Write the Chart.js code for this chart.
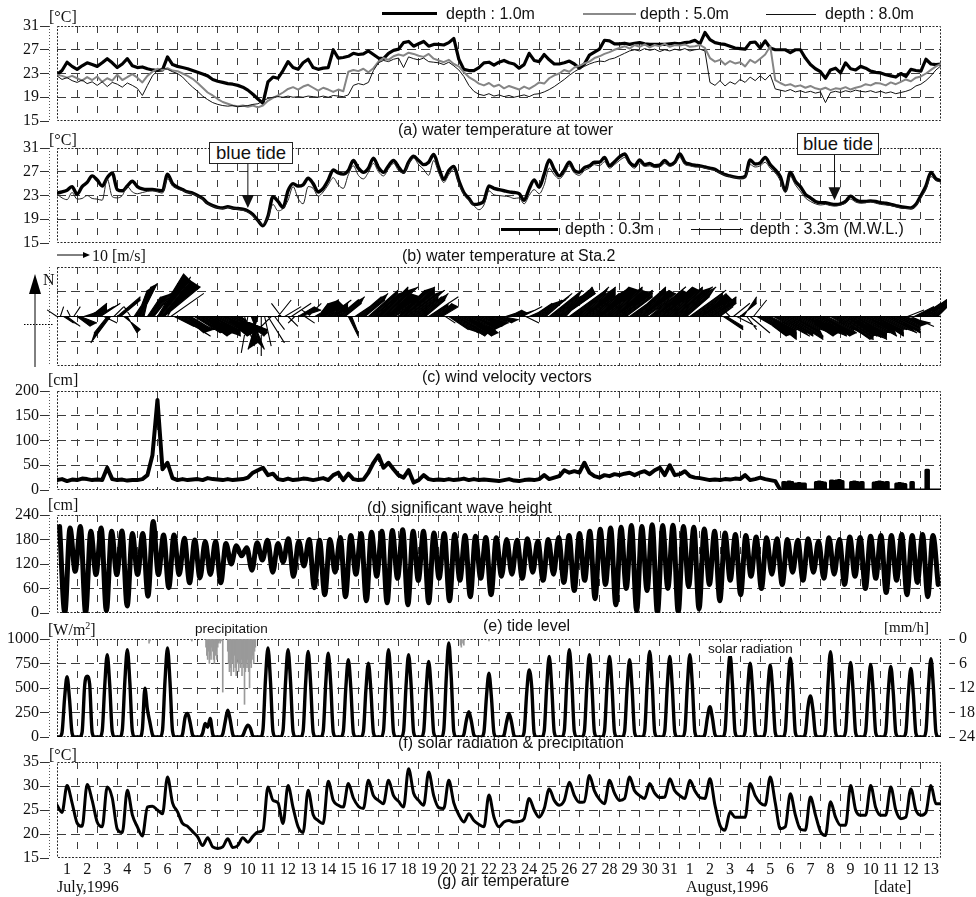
<!DOCTYPE html>
<html>
<head>
<meta charset="utf-8">
<title>Water temperature, wind, waves, tide, radiation and air temperature, July–August 1996</title>
<script src="https://cdn.jsdelivr.net/npm/chart.js@4.4.1/dist/chart.umd.min.js"></script>
<style>
  html, body { margin: 0; padding: 0; background: #fff; }
  #page { position: relative; width: 976px; height: 897px; overflow: hidden; background: #fff; }
  #page canvas { position: absolute; left: 0; top: 0; }
  .t { position: absolute; white-space: nowrap; color: #111; line-height: 1; z-index: 5; }
  .sans { font-family: "Liberation Sans", Arial, sans-serif; }
  .serif { font-family: "Liberation Serif", "Times New Roman", serif; }
  .ln { position: absolute; z-index: 5; }
  .box { position: absolute; z-index: 6; background: #fff; border: 1px solid #222; box-sizing: border-box;
         font-family: "Liberation Sans", Arial, sans-serif; font-size: 18.5px; line-height: 20px; text-align: center; color: #111; }
  .wbg { background: #fff; }
</style>
</head>
<body>
<div id="page">
  <canvas id="cA" width="976" height="897"></canvas>
  <canvas id="cB" width="976" height="897"></canvas>
  <canvas id="cC" width="976" height="897"></canvas>
  <canvas id="cD" width="976" height="897"></canvas>
  <canvas id="cE" width="976" height="897"></canvas>
  <canvas id="cF" width="976" height="897"></canvas>
  <canvas id="cG" width="976" height="897"></canvas>

  <!-- (a) -->
  <div class="t serif" style="left:49px;top:9px;font-size:16px">[°C]</div>
  <div class="ln" style="left:382px;top:12px;width:55px;height:3px;background:#000"></div>
  <div class="t sans" style="left:446px;top:6px;font-size:16px">depth : 1.0m</div>
  <div class="ln" style="left:583px;top:13px;width:53px;height:2px;background:#8a8a8a"></div>
  <div class="t sans" style="left:640px;top:6px;font-size:16px">depth : 5.0m</div>
  <div class="ln" style="left:766px;top:13.5px;width:50px;height:1px;background:#111"></div>
  <div class="t sans" style="left:825px;top:6px;font-size:16px">depth : 8.0m</div>
  <div class="t sans" style="left:398px;top:122px;font-size:16px">(a) water temperature at tower</div>

  <!-- (b) -->
  <div class="t serif" style="left:49px;top:132px;font-size:16px">[°C]</div>
  <div id="bt1" class="box" style="left:209px;top:142px;width:84px;height:22px">blue tide</div>
  <div id="bt2" class="box" style="left:797px;top:133px;width:82px;height:22px">blue tide</div>
  <div class="ln" style="left:501px;top:227.5px;width:57px;height:3px;background:#000"></div>
  <div class="t sans wbg" style="left:563px;top:221px;font-size:16px;padding:0 2px">depth : 0.3m</div>
  <div class="ln" style="left:691px;top:228.5px;width:52px;height:1px;background:#111"></div>
  <div class="t sans wbg" style="left:748px;top:221px;font-size:16px;padding:0 2px">depth : 3.3m (M.W.L.)</div>
  <div class="t sans" style="left:402px;top:248px;font-size:16px">(b) water temperature at Sta.2</div>

  <!-- (c) -->
  <div class="t serif" style="left:92px;top:248px;font-size:16px">10 [m/s]</div>
  <div class="t serif" style="left:43px;top:272px;font-size:16px">N</div>
  <div class="t sans" style="left:422px;top:369px;font-size:16px">(c) wind velocity vectors</div>

  <!-- (d) -->
  <div class="t serif" style="left:48px;top:372px;font-size:16px">[cm]</div>
  <div class="t sans" style="left:367px;top:500px;font-size:16px">(d) significant wave height</div>

  <!-- (e) -->
  <div class="t serif" style="left:48px;top:497px;font-size:16px">[cm]</div>
  <div class="t sans" style="left:483px;top:618px;font-size:16px">(e) tide level</div>

  <!-- (f) -->
  <div class="t serif" style="left:48px;top:621px;font-size:16px">[W/m<sup style="font-size:10px;vertical-align:6px">2</sup>]</div>
  <div class="t sans" style="left:195px;top:622px;font-size:13.5px">precipitation</div>
  <div class="t serif" style="left:884px;top:620px;font-size:15px">[mm/h]</div>
  <div class="t sans wbg" style="left:707px;top:642px;font-size:13.5px;padding:0 1px">solar radiation</div>
  <div class="t sans" style="left:398px;top:735px;font-size:16px">(f) solar radiation &amp; precipitation</div>

  <!-- (g) -->
  <div class="t serif" style="left:49px;top:747px;font-size:16px">[°C]</div>
  <div class="t serif" style="left:57px;top:879px;font-size:16px">July,1996</div>
  <div class="t sans" style="left:437px;top:873px;font-size:16px">(g) air temperature</div>
  <div class="t serif" style="left:686px;top:879px;font-size:16px">August,1996</div>
  <div class="t serif" style="left:874px;top:879px;font-size:16px">[date]</div>
</div>

<script>
// ---------------------------------------------------------------------------
// Time axis: days since 1 July 1996 00:00 (44 days, to 14 August 00:00)
// ---------------------------------------------------------------------------
const DAY_COUNT = 44;
const DAY_LABELS = ["1","2","3","4","5","6","7","8","9","10","11","12","13","14","15","16",
  "17","18","19","20","21","22","23","24","25","26","27","28","29","30","31",
  "1","2","3","4","5","6","7","8","9","10","11","12","13"];

// (a) water temperature at tower [°C], 6-hourly
const tower1m = [22.8,23.5,24.9,24.2, 23.7,24.3,24.8,24.5, 24.2,24.8,25.5,24.8, 24.0,24.6,25.5,24.3,
  24.0,24.1,23.8,23.6, 23.5,23.6,25.8,24.5, 24.2,24.0,23.8,23.5, 23.2,22.9,22.6,22.0,
  21.7,21.5,21.3,21.2, 21.0,20.7,20.2,19.5, 18.7,18.0,21.6,22.4, 22.2,23.5,25.0,24.0,
  23.7,24.8,25.4,24.0, 23.7,23.9,24.0,27.0, 25.6,25.7,25.9,26.4, 26.2,26.3,26.8,26.2,
  25.6,25.5,26.4,26.9, 27.1,28.2,28.4,27.6, 28.0,28.4,27.6,27.9, 27.9,27.8,28.2,28.9,
  25.4,23.7,23.5,23.5, 24.0,24.8,24.9,24.4, 24.9,25.2,24.8,24.6, 23.9,24.5,26.4,25.2,
  25.0,26.2,25.3,24.6, 24.6,24.8,25.1,24.6, 23.9,24.6,26.1,26.6, 27.1,28.6,28.5,28.0,
  28.0,28.1,27.9,28.1, 28.2,28.0,27.9,27.9, 27.9,27.9,28.0,28.1, 28.0,28.2,28.3,28.6,
  28.0,29.9,28.7,28.2, 28.0,27.9,27.6,27.3, 27.2,27.1,28.2,28.3, 27.3,28.5,27.3,27.0,
  27.0,27.0,26.5,27.0, 27.0,25.6,24.5,23.8, 23.3,22.2,23.6,23.9, 23.1,24.8,23.8,23.6,
  24.2,23.9,23.4,23.2, 23.1,22.8,22.6,22.4, 23.0,22.5,23.7,23.5, 23.4,25.4,24.6,24.5, 24.6];
const tower5m = [22.8,22.6,22.3,22.6, 22.2,21.8,22.4,21.9, 22.5,21.6,22.2,21.8, 22.8,21.9,22.4,22.9,
  22.3,21.5,22.6,23.3, 23.8,23.6,23.9,23.5, 23.4,23.0,22.6,22.1, 21.4,20.6,19.8,19.3,
  18.7,18.2,17.9,17.6, 17.5,17.6,17.4,17.6, 17.3,17.6,18.4,18.9, 19.3,19.8,20.4,20.7,
  20.3,20.8,21.1,20.6, 20.1,20.6,20.3,19.9, 20.3,20.0,23.3,23.6, 23.4,23.8,23.2,23.9,
  25.0,25.6,25.3,25.9, 26.2,26.0,26.5,26.3, 26.0,25.8,26.3,25.5, 25.2,24.9,25.3,24.6,
  24.2,23.2,22.4,21.9, 21.3,21.0,21.4,20.8, 21.1,20.5,20.9,20.6, 20.3,20.8,20.4,20.9,
  21.5,21.3,22.2,22.7, 23.0,23.6,23.3,24.0, 24.3,24.7,25.0,25.6, 25.9,26.3,26.6,27.0,
  27.3,27.6,27.2,27.8, 27.5,27.9,27.4,27.8, 27.6,28.0,27.5,27.8, 27.7,27.9,27.5,27.6,
  27.8,27.3,25.6,25.0, 25.3,24.5,25.1,24.7, 24.9,24.2,25.3,24.8, 25.5,26.2,27.6,21.9,
  21.4,21.0,21.2,20.8, 21.0,20.6,20.9,20.5, 20.3,20.6,20.2,20.5, 20.4,20.7,20.3,20.6,
  20.8,21.2,21.0,21.4, 21.3,21.0,21.5,21.2, 21.6,22.0,21.7,22.3, 22.5,23.0,23.6,24.2, 24.6];
const tower8m = [22.6,22.0,22.3,21.8, 21.5,21.9,21.3,21.6, 21.0,21.6,20.8,21.5, 21.2,20.7,21.4,21.0,
  20.5,19.3,21.0,22.6, 23.5,23.9,23.7,23.3, 23.0,22.4,21.5,20.7, 20.0,19.2,18.6,18.1,
  17.8,17.6,17.5,17.6, 17.4,17.5,17.6,17.8, 17.9,18.4,18.8,19.0, 19.1,19.0,19.2,19.0,
  19.1,19.0,19.2,19.1, 19.0,19.2,19.0,19.3, 19.2,19.1,19.4,21.0, 21.3,21.1,21.5,23.5,
  24.8,25.2,25.0,25.4, 25.6,24.0,25.8,25.5, 25.3,25.6,25.0,24.9, 24.8,24.5,24.9,24.3,
  23.6,22.5,21.0,20.0, 19.5,19.3,19.6,19.2, 19.4,19.1,19.3,19.0, 19.2,19.4,19.1,19.5,
  19.6,19.9,20.3,20.8, 21.4,22.0,22.7,23.3, 23.8,24.2,24.6,24.9, 25.1,25.0,25.4,25.6,
  26.0,26.4,26.8,27.0, 26.8,27.2,26.9,27.1, 26.7,27.0,26.8,27.1, 26.9,27.2,26.8,27.0,
  27.1,26.8,21.5,21.0, 21.8,20.9,21.6,21.2, 22.0,21.5,22.4,21.8, 22.6,21.9,22.8,20.4,
  20.2,20.0,20.3,19.9, 20.1,19.8,20.0,19.7, 19.9,18.1,19.8,20.0, 19.8,20.1,19.9,20.2,
  20.0,19.9,20.1,19.8, 20.0,19.7,19.9,19.6, 19.8,20.0,20.3,20.9, 21.2,21.8,22.6,23.6, 24.3];

// (b) water temperature at Sta.2 [°C], 6-hourly
const sta2Surface = [23.4,23.6,23.9,24.5, 23.2,24.5,25.2,26.3, 25.6,24.6,26.0,26.8, 24.0,23.8,24.6,25.4,
  24.5,24.1,24.0,24.0, 23.9,23.8,26.6,25.0, 24.4,24.0,23.6,23.4, 23.0,22.5,21.7,21.3,
  21.0,20.9,21.1,20.9, 20.8,20.7,20.4,19.8, 18.8,17.9,19.5,22.8, 22.0,21.0,23.8,25.0,
  24.6,24.8,25.9,25.0, 23.6,24.2,25.6,27.3, 26.8,26.6,27.2,28.9, 27.6,26.9,27.6,29.3,
  27.7,26.9,28.0,28.9, 27.8,26.9,28.6,29.6, 28.9,28.2,28.6,29.9, 27.7,25.7,27.2,27.9,
  25.5,23.5,22.5,21.5, 21.6,22.1,24.6,24.2, 24.0,23.8,23.6,23.5, 23.3,22.2,24.1,25.6,
  24.4,26.6,29.0,27.4, 26.3,27.3,28.6,27.2, 26.9,27.7,28.0,28.6, 28.6,29.4,28.0,28.7,
  29.5,30.0,28.6,28.0, 29.0,28.2,28.4,28.0, 28.1,28.9,28.2,28.6, 30.0,28.6,28.3,28.1,
  28.0,27.8,27.6,27.4, 26.9,26.5,26.3,26.1, 26.0,26.2,29.0,28.3, 28.5,29.4,28.2,27.3,
  26.2,23.8,26.9,25.4, 24.5,23.2,22.6,22.0, 21.8,21.8,21.6,21.5, 21.6,22.0,22.9,22.3,
  22.0,22.0,22.1,22.0, 21.8,21.7,21.5,21.3, 21.1,21.0,20.9,21.5, 23.0,24.6,26.9,25.8, 25.5];
const sta2Bottom = [23.2,22.6,22.3,23.5, 22.4,22.5,23.0,22.5, 22.4,22.2,25.8,22.8, 22.6,23.0,24.5,23.6,
  23.3,23.5,23.7,23.8, 23.6,23.4,25.8,24.6, 24.1,23.8,23.5,23.3, 22.9,22.4,21.6,21.2,
  20.9,20.8,21.0,20.8, 20.7,20.5,20.2,19.6, 18.7,18.1,19.3,21.5, 20.4,20.8,22.2,24.5,
  22.5,21.6,24.5,24.2, 22.9,23.6,24.8,26.0, 24.8,24.2,26.5,28.0, 26.4,25.8,26.9,28.4,
  27.0,26.3,27.5,28.4, 27.2,26.8,28.3,29.3, 28.2,27.4,26.4,28.9, 26.8,25.2,26.5,27.4,
  25.0,23.2,22.2,21.3, 20.6,21.4,23.8,23.1, 23.0,22.9,22.8,22.5, 22.6,21.6,23.0,24.0,
  23.3,24.8,27.6,26.5, 25.8,26.7,28.0,26.8, 26.4,27.2,27.6,28.2, 28.0,28.7,27.6,28.2,
  28.9,29.4,28.2,27.6, 28.5,27.9,28.0,27.7, 27.8,28.4,27.9,28.3, 29.4,28.2,28.0,27.8,
  27.8,27.6,27.4,27.2, 26.8,26.4,26.2,26.0, 25.9,26.0,28.2,27.8, 28.0,28.6,27.6,26.8,
  25.5,23.5,26.2,24.8, 23.7,22.6,22.0,21.6, 21.4,21.5,21.3,21.2, 21.4,21.7,22.4,21.9,
  21.7,21.8,21.9,21.7, 21.5,21.4,21.3,21.1, 20.9,20.8,20.8,21.2, 22.6,24.0,26.2,25.5, 25.3];
const BLUE_TIDE_DAYS = [9.5, 38.7];
const BLUE_TIDE_TEMPS = [20.9, 22.2];

// (c) wind velocity components [m/s], 4-hourly (east, north)
const windU = [-3,1,3,4,-1,2, 4,5,3,6,5,4, 5,6,4,-4,-6,3, 7,6,5,3,-2,4, 3,5,2,4,6,7,
  8,9,11,7,10,6, 7,9,6,8,5,8, 9,8,10,7,9,8, 8,10,7,9,8,10, 9,7,3,-2,4,1,
  -3,0,2,5,-6,3, 4,-3,5,3,6,-2, 5,6,3,4,-3,5, 3,5,6,7,5,4, 6,7,5,3,2,6,
  7,8,6,9,8,10, 9,8,10,7,9,6, 8,10,9,11,8,7, 7,8,6,9,5,4, 4,5,3,6,8,9,
  9,10,8,9,7,8, 6,7,5,6,4,5, 4,5,3,4,5,6, 5,6,4,7,6,8, 8,9,7,10,8,9,
  9,10,8,11,9,10, 8,10,9,11,8,9, 9,11,8,10,9,11, 10,9,8,11,10,9, 9,10,7,11,9,10,
  10,11,8,10,9,11, 9,10,7,11,9,8, 8,9,6,8,7,5, 4,6,5,-2,5,6, 5,4,3,6,4,7,
  8,10,9,8,11,9, 10,9,11,10,8,10, 10,9,11,8,10,9, 9,10,8,11,9,10, 10,9,11,8,10,9,
  9,10,8,10,9,8, 8,10,7,9,8,7, 6,8,5,7,6,5, 6,8,5,6,4,3];
const windV = [2,3,-2,-3,2,3, -3,-2,1,3,4,2, 3,4,-2,-5,-8,3, 6,5,-4,-5,3,6, 8,10,9,6,7,9,
  13,11,9,12,7,-3, -4,-6,-5,-4,-3,-5, -5,-6,-4,-5,-6,-4, -4,-5,-6,-4,-5,-4, -5,-6,-9,-11,-10,-8,
  -10,-12,-9,-8,-6,-4, 5,4,3,-3,4,-2, 3,2,-2,4,2,3, 4,5,3,5,4,2, 5,6,4,-6,-5,4,
  6,7,5,8,7,8, 9,8,9,7,6,4, 8,9,7,8,6,5, 6,7,5,6,4,3, 4,3,-2,-4,-5,-6,
  -5,-4,-6,-5,-4,-3, -3,-2,-3,-2,-1,-2, -2,-1,1,2,1,2, 2,3,-2,3,4,5, 5,7,6,8,6,7,
  8,7,9,8,7,9, 7,9,6,8,7,8, 9,8,7,9,8,7, 8,7,6,8,9,7, 8,7,5,9,8,7,
  9,8,7,9,8,9, 8,9,6,8,7,6, 7,5,4,6,4,3, 3,-4,-3,2,4,-3, 4,6,-4,-5,5,-4,
  -6,-5,-7,-4,-6,-5, -6,-5,-7,-6,-4,-5, -5,-6,-4,-5,-6,-5, -6,-5,-4,-6,-5,-7, -7,-6,-5,-6,-7,-5,
  -5,-6,-3,-5,-6,-4, -4,-5,-3,-5,-4,-3, -3,-2,2,-3,3,2, 4,6,3,5,4,3];

// (d) significant wave height [cm]: 6-hourly to 6 August, then 3-hourly with dropouts
const waveHeight = [20,22,18,21, 20,23,22,20, 21,20,45,22, 20,21,19,20, 20,22,30,70,
  182,42,55,24, 20,22,20,21, 22,20,24,22, 21,20,22,20, 21,22,25,35, 40,45,30,33,
  22,20,23,20, 21,23,22,20, 22,24,20,30, 35,20,33,22, 20,21,35,55, 70,45,55,42,
  30,25,40,15, 20,30,22,20, 21,20,22,20, 21,23,20,22, 20,21,20,19, 18,20,22,19,
  18,20,21,20, 22,30,22,25, 28,40,35,38, 35,55,35,28, 25,30,28,32, 30,33,35,30,
  35,38,32,40, 45,30,50,30, 32,38,28,25, 24,22,20,21, 20,22,21,23, 22,30,20,22,
  25,22,20,18, 0];
const WAVE_LATE_START = 36;
const waveHeightLate = [0,0,15,14,16,15,0,12, 13,12,12,0,0,0,0,15, 16,15,14,0,0,18,17,18,
  19,17,0,0,0,15,16,15, 14,15,0,0,0,0,14,15, 16,15,14,15,0,0,0,12, 13,12,11,0,0,15,0,0,
  0,0,0,40,0,0,0,0, 0];

// (e) tide level [cm]: successive high / low waters
const TIDE_FIRST_HW = 0.13;          // day of first high water
const TIDE_HALF_PERIOD = 12.42 / 48;  // days between successive high and low water
const tideExtremes = [212,0,208,102,212,0,200,94,208,5,200,94,201,17,195,94,195,41,224,94,191,62,191,94,183,74,179,86,175,94,175,74,
  170,120,165,140,160,105,172,130,178,100,170,125,182,90,176,115,180,62,
  178,45,180,100,185,40,190,95,195,30,198,90,200,25,202,85,204,20,200,80,200,25,196,85,195,30,192,80,190,40,188,85,185,45,184,90,
  180,95,178,85,182,100,176,80,180,95,185,75,
  190,55,195,80,200,35,205,70,208,20,210,60,
  214,5,212,55,216,0,214,60,215,2,212,65,210,10,206,70,
  200,30,196,80,192,45,190,90,186,60,184,95,182,70,180,100,178,80,
  182,100,176,85,184,95,180,70,186,90,185,60,188,85,190,50,190,80,192,45,190,75,192,40,190,70];

// (f) solar radiation [W/m2], 3-hourly
const solarRad = [0,0,45,390,616,380,40,0, 0,0,50,520,620,540,45,0, 0,0,60,520,839,530,55,0, 0,0,70,560,890,560,60,0,
  0,0,80,497,280,150,25,0, 0,0,65,570,908,560,60,0, 0,0,30,200,240,150,20,0, 0,0,40,137,100,190,30,0,
  0,0,30,160,274,170,25,0, 0,0,15,80,120,90,10,0, 0,0,70,580,908,570,55,0, 0,0,65,560,890,560,55,0,
  0,0,60,550,873,540,50,0, 0,0,60,540,856,540,50,0, 0,0,55,500,788,500,45,0, 0,0,55,480,753,470,45,0,
  0,0,65,560,890,555,50,0, 0,0,60,530,839,530,50,0, 0,0,55,490,771,480,45,0, 0,0,70,600,959,600,55,0,
  0,0,25,170,257,160,20,0, 0,0,50,410,650,400,40,0, 0,0,20,150,240,150,15,0, 0,0,50,440,685,520,40,0,
  0,0,60,520,822,510,50,0, 0,0,65,560,890,560,55,0, 0,0,60,530,839,520,50,0, 0,0,60,520,822,515,50,0,
  0,0,55,500,788,495,45,0, 0,0,60,550,873,545,50,0, 0,0,60,520,822,510,50,0, 0,0,60,530,839,525,50,0,
  0,0,30,200,308,190,25,0, 0,0,60,530,839,520,50,0, 0,0,55,480,753,470,45,0, 0,0,55,470,736,460,45,0,
  0,0,60,510,805,500,45,0, 0,0,40,300,420,280,30,0, 0,0,60,540,870,540,50,0, 0,0,55,480,760,470,45,0,
  0,0,55,470,740,460,45,0, 0,0,50,460,720,450,45,0, 0,0,50,440,700,430,40,0, 0,0,60,500,800,490,45,0, 0];
// precipitation [mm/h] by hour since 1 July 00:00
const precipHour = [110,111,161,178,179,180,181,182,183,184,185,186,187,188,189,190,191,192,193,194,195,196,198,
  204,205,206,207,208,209,210,211,212,213,214,215,216,217,218,219,220,221,222,223,224,225,226,227,228,229,230,
  231,232,233,234,235,236,237,482,483,485,486,516];
const precipRate = [1,0.5,0.5,2,4,5,3,6,4,5,2,3,5,6,4,3,5,2,1,0.5,1,0.5,13,
  3,6,8,7,9,5,6,8,4,7,9,6,5,8,6,7,5,9,6,7,16,8,6,7,5,8,12,
  6,7,5,4,6,3,2,1.5,2,1,1.5,0.5];

// (g) air temperature [°C], 6-hourly
const airTemp = [26.0,24.5,30.1,26.5, 22.3,21.6,30.3,27.0, 22.5,21.5,29.8,27.5, 21.0,20.3,29.1,24.0,
  21.5,19.6,25.6,25.8, 25.0,24.2,31.9,26.5, 24.6,22.2,21.6,20.5, 19.4,17.6,19.2,17.3,
  17.0,17.3,19.0,17.2, 17.6,19.2,18.3,19.5, 20.4,20.8,29.8,27.0, 26.5,22.2,30.1,25.5,
  21.5,20.3,29.1,24.0, 22.8,22.2,31.0,27.0, 26.0,25.6,30.5,27.5, 25.8,25.3,31.2,28.0,
  27.0,26.3,31.2,28.0, 26.8,25.6,33.6,28.5, 27.0,26.0,32.9,28.0, 25.5,25.3,31.2,26.5,
  24.0,22.5,24.2,22.8, 22.0,21.5,28.1,23.5, 21.5,22.5,22.8,22.5, 22.6,23.2,27.4,25.0,
  23.5,25.3,29.4,27.0, 26.0,27.0,30.8,28.0, 26.6,26.7,32.2,29.0, 27.2,26.3,31.2,28.5,
  27.0,27.4,31.9,29.0, 28.0,27.4,30.5,28.5, 27.6,27.7,31.5,29.0, 28.0,27.4,31.2,29.0,
  27.6,27.4,31.5,26.0, 21.8,20.8,24.6,23.5, 23.5,23.5,30.5,28.0, 26.5,26.0,31.9,26.5,
  21.1,21.5,28.4,24.0, 21.0,20.8,27.7,24.0, 20.5,19.7,26.7,23.5, 21.8,21.8,30.1,25.0,
  23.9,23.9,30.1,25.5, 23.9,23.9,29.8,25.0, 23.2,23.5,29.4,25.0, 23.9,24.5,30.1,26.3, 26.3];

// ---------------------------------------------------------------------------
// Chart helpers
// ---------------------------------------------------------------------------
const PAGE_H = 897;
const SERIF = '"Liberation Serif", "Times New Roman", serif';
Chart.defaults.font.family = SERIF;
Chart.defaults.color = '#111';

// series sampled every `hours` hours, starting `startDay` days after 1 July 00:00
const sampled = (values, hours, startDay = 0) => values.map((v, i) => ({ x: startDay + i * hours / 24, y: v }));

const GRID = '#3c3c3c';
const gridColor = (lo, hi) => (ctx) =>
  (ctx.tick && (ctx.tick.value <= lo + 1e-9 || ctx.tick.value >= hi - 1e-9)) ? 'rgba(0,0,0,0)' : GRID;

// dotted frame round every plot area, with the dotted ruler beside the value axis
Chart.register({
  id: 'plotFrame',
  beforeDatasetsDraw(chart) {
    const { ctx, chartArea: a } = chart;
    ctx.save();
    ctx.strokeStyle = '#2a2a2a';
    ctx.lineWidth = 1;
    ctx.setLineDash([2, 1.5]);
    ctx.strokeRect(a.left + 0.5, a.top + 0.5, a.right - a.left - 1, a.bottom - a.top - 1);
    ctx.strokeStyle = '#555';
    ctx.setLineDash([1, 2]);
    ctx.beginPath(); ctx.moveTo(a.left - 7.5, a.top); ctx.lineTo(a.left - 7.5, a.bottom); ctx.stroke();
    ctx.restore();
  }
});

function xGrid() {
  return {
    type: 'linear', min: 0, max: DAY_COUNT, offset: false,
    ticks: { display: false, stepSize: 1, maxTicksLimit: 100 },
    grid: { color: gridColor(0, DAY_COUNT), lineWidth: 1, drawTicks: false, offset: false },
    border: { display: false, dash: [7, 9] },
    afterFit: (s) => { s.height = 0; }
  };
}

function yLeft(min, max, step, showTicks = true) {
  return {
    type: 'linear', position: 'left', min, max,
    ticks: { display: showTicks, stepSize: step, padding: 1, font: { family: SERIF, size: 16 }, color: '#111',
             callback: (v) => String(v) },
    grid: { color: gridColor(min, max), lineWidth: 1, drawTicks: showTicks, tickLength: 17,
            tickColor: '#333', tickWidth: 1, tickBorderDash: [9, 30] },
    border: { display: false, dash: [9, 5] },
    afterFit: (s) => { s.width = 57; }
  };
}

function panel(id, { top, bottom, scales, datasets, plugins = [], rightPad = 35, bottomAxis = 0 }) {
  return new Chart(document.getElementById(id), {
    type: 'line',
    data: { datasets },
    plugins,
    options: {
      responsive: false, animation: false, events: [], devicePixelRatio: 1,
      layout: { padding: { left: 0, right: rightPad, top, bottom: PAGE_H - bottom - bottomAxis } },
      plugins: { legend: { display: false }, tooltip: { enabled: false } },
      elements: { point: { radius: 0 }, line: { borderCapStyle: 'round', borderJoinStyle: 'round', fill: false } },
      scales
    }
  });
}

// ---------------------------------------------------------------------------
// (a) water temperature at tower
// ---------------------------------------------------------------------------
panel('cA', {
  top: 26, bottom: 121,
  scales: { x: xGrid(), y: yLeft(15, 31, 4) },
  datasets: [
    { data: sampled(tower8m, 6), borderColor: '#111', borderWidth: 1, tension: 0 },
    { data: sampled(tower5m, 6), borderColor: '#858585', borderWidth: 2, tension: 0 },
    { data: sampled(tower1m, 6), borderColor: '#000', borderWidth: 3.2, tension: 0 }
  ]
});

// ---------------------------------------------------------------------------
// (b) water temperature at Sta.2 with "blue tide" markers
// ---------------------------------------------------------------------------
const blueTideArrows = {
  id: 'blueTideArrows',
  afterDatasetsDraw(chart) {
    const { ctx } = chart;
    const xs = chart.scales.x, ys = chart.scales.y;
    ['bt1', 'bt2'].forEach((boxId, k) => {
      const box = document.getElementById(boxId);
      const x = xs.getPixelForValue(BLUE_TIDE_DAYS[k]);
      const yTip = ys.getPixelForValue(BLUE_TIDE_TEMPS[k]);
      const y0 = box.offsetTop + box.offsetHeight;
      ctx.save();
      ctx.strokeStyle = '#111'; ctx.fillStyle = '#111'; ctx.lineWidth = 1;
      ctx.beginPath(); ctx.moveTo(x, y0); ctx.lineTo(x, yTip - 10); ctx.stroke();
      ctx.beginPath(); ctx.moveTo(x - 6, yTip - 13); ctx.lineTo(x + 6, yTip - 13); ctx.lineTo(x, yTip); ctx.closePath(); ctx.fill();
      ctx.restore();
    });
  }
};
panel('cB', {
  top: 148, bottom: 243,
  scales: { x: xGrid(), y: yLeft(15, 31, 4) },
  plugins: [blueTideArrows],
  datasets: [
    { data: sampled(sta2Bottom, 6), borderColor: '#222', borderWidth: 1, cubicInterpolationMode: 'monotone' },
    { data: sampled(sta2Surface, 6), borderColor: '#000', borderWidth: 3.4, cubicInterpolationMode: 'monotone' }
  ]
});

// ---------------------------------------------------------------------------
// (c) wind velocity vectors (stick plot, equal m/s scale on both axes)
// ---------------------------------------------------------------------------
const WIND_STEP_HOURS = 4;
const WIND_REF_SPEED = 10;
const windSticks = {
  id: 'windSticks',
  afterDatasetsDraw(chart) {
    const { ctx, chartArea: a } = chart;
    const xs = chart.scales.x, ys = chart.scales.y;
    const y0 = ys.getPixelForValue(0);
    const pxPerMs = Math.abs(ys.getPixelForValue(1) - y0);
    const base = (i) => xs.getPixelForValue(i * WIND_STEP_HOURS / 24);
    const tip = (i) => [base(i) + windU[i] * pxPerMs, ys.getPixelForValue(windV[i])];
    ctx.save();
    ctx.beginPath(); ctx.rect(a.left - 14, a.top - 4, a.right - a.left + 20, a.bottom - a.top + 8); ctx.clip();
    ctx.fillStyle = '#000';
    // neighbouring sticks of similar direction merge into a dark fan
    for (let i = 0; i < windU.length - 1; i++) {
      const [tx0, ty0] = tip(i), [tx1, ty1] = tip(i + 1);
      if (Math.sign(windV[i]) !== Math.sign(windV[i + 1])) continue;
      if (Math.hypot(tx1 - tx0, ty1 - ty0) > 13) continue;
      ctx.beginPath();
      ctx.moveTo(base(i), y0); ctx.lineTo(tx0, ty0); ctx.lineTo(tx1, ty1); ctx.lineTo(base(i + 1), y0);
      ctx.closePath(); ctx.fill();
    }
    ctx.strokeStyle = '#000';
    ctx.lineWidth = 1.1;
    ctx.beginPath();
    windU.forEach((u, i) => {
      const [tx, ty] = tip(i);
      ctx.moveTo(base(i), y0);
      ctx.lineTo(tx, ty);
    });
    ctx.stroke();
    ctx.restore();

    ctx.save();
    ctx.strokeStyle = '#000'; ctx.fillStyle = '#000';
    // scale arrow: 10 m/s
    const ry = a.top - 12, rx0 = a.left, rx1 = a.left + WIND_REF_SPEED * pxPerMs;
    ctx.lineWidth = 1;
    ctx.beginPath(); ctx.moveTo(rx0, ry); ctx.lineTo(rx1 - 4, ry); ctx.stroke();
    ctx.beginPath(); ctx.moveTo(rx1, ry); ctx.lineTo(rx1 - 7, ry - 3); ctx.lineTo(rx1 - 7, ry + 3); ctx.closePath(); ctx.fill();

    // north arrow and reference level on the left
    const nx = 35;
    ctx.beginPath(); ctx.moveTo(nx, a.bottom + 1); ctx.lineTo(nx, a.top + 20); ctx.stroke();
    ctx.beginPath(); ctx.moveTo(nx, a.top + 7); ctx.lineTo(nx - 6, a.top + 27); ctx.lineTo(nx + 6, a.top + 27); ctx.closePath(); ctx.fill();
    ctx.setLineDash([1.5, 1.5]);
    ctx.beginPath(); ctx.moveTo(24, y0 + 8); ctx.lineTo(54, y0 + 8); ctx.stroke();
    ctx.restore();
  }
};
panel('cC', {
  top: 267, bottom: 366,
  scales: { x: xGrid(), y: yLeft(-15, 15, 7.5, false) },
  plugins: [windSticks],
  datasets: [
    { data: [{ x: 0, y: 0 }, { x: DAY_COUNT, y: 0 }], borderColor: '#000', borderWidth: 1, tension: 0 }
  ]
});

// ---------------------------------------------------------------------------
// (d) significant wave height
// ---------------------------------------------------------------------------
panel('cD', {
  top: 391, bottom: 490,
  scales: { x: xGrid(), y: yLeft(0, 200, 50) },
  datasets: [
    { data: sampled(waveHeight, 6), borderColor: '#000', borderWidth: 4, tension: 0 },
    { data: sampled(waveHeightLate, 3, WAVE_LATE_START), borderColor: '#000', borderWidth: 3,
      stepped: 'after', fill: 'origin', backgroundColor: '#000' }
  ]
});

// ---------------------------------------------------------------------------
// (e) tide level
// ---------------------------------------------------------------------------
panel('cE', {
  top: 515, bottom: 613,
  scales: { x: xGrid(), y: yLeft(0, 240, 60) },
  datasets: [
    { data: tideExtremes.map((v, i) => ({ x: TIDE_FIRST_HW + i * TIDE_HALF_PERIOD, y: v })),
      borderColor: '#000', borderWidth: 5, cubicInterpolationMode: 'monotone' }
  ]
});

// ---------------------------------------------------------------------------
// (f) solar radiation & precipitation (precipitation hangs from the top, right axis)
// ---------------------------------------------------------------------------
panel('cF', {
  top: 639, bottom: 737, rightPad: 0,
  scales: {
    x: xGrid(),
    y: yLeft(0, 1000, 250),
    y2: {
      type: 'linear', position: 'right', reverse: true, min: 0, max: 24,
      ticks: { stepSize: 6, padding: 4, font: { family: SERIF, size: 16 }, color: '#111', callback: (v) => String(v) },
      grid: { drawOnChartArea: false, tickLength: 14, tickColor: '#333', tickBorderDash: [0.01, 8, 6, 50] },
      border: { display: false },
      afterFit: (s) => { s.width = 35; }
    }
  },
  datasets: [
    { data: sampled(solarRad, 3), borderColor: '#000', borderWidth: 3.4, cubicInterpolationMode: 'monotone', order: 1 },
    { type: 'bar', yAxisID: 'y2', data: precipHour.map((h, i) => ({ x: h / 24, y: precipRate[i] })),
      backgroundColor: '#9a9a9a', barThickness: 1, grouped: false, order: 2 }
  ]
});

// ---------------------------------------------------------------------------
// (g) air temperature, with the date axis
// ---------------------------------------------------------------------------
const DATE_AXIS_HEIGHT = 24;
panel('cG', {
  top: 762, bottom: 858, bottomAxis: DATE_AXIS_HEIGHT,
  scales: {
    x: xGrid(),
    xd: {
      type: 'linear', position: 'bottom', min: 0, max: DAY_COUNT, offset: false,
      afterBuildTicks: (s) => { s.ticks = DAY_LABELS.map((_, i) => ({ value: i + 0.5 })); },
      ticks: { autoSkip: false, maxRotation: 0, padding: 2, font: { family: SERIF, size: 16 }, color: '#111',
               callback: (v, i) => DAY_LABELS[i] },
      grid: { display: false, drawTicks: false },
      border: { display: false },
      afterFit: (s) => { s.height = DATE_AXIS_HEIGHT; }
    },
    y: yLeft(15, 35, 5)
  },
  datasets: [
    { data: sampled(airTemp, 6), borderColor: '#000', borderWidth: 3, cubicInterpolationMode: 'monotone' }
  ]
});
</script>
</body>
</html>
